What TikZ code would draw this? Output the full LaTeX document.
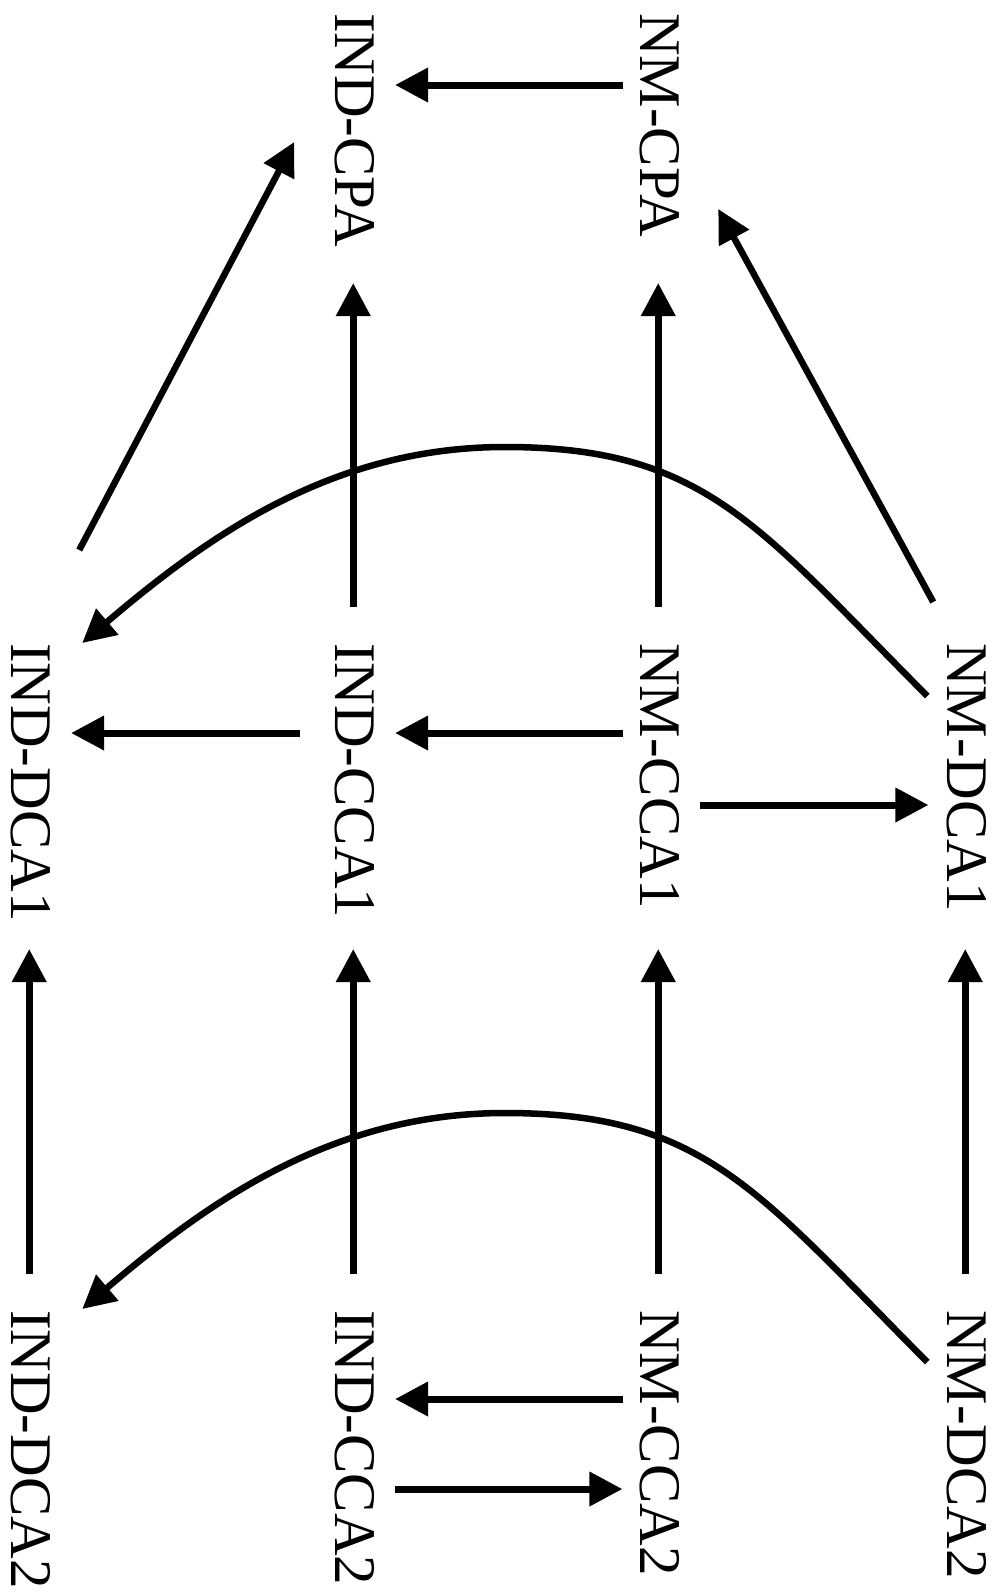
\documentclass[tikz,border=0pt]{standalone}
\usepackage{fontspec}
\setmainfont{Liberation Serif}
\usetikzlibrary{arrows.meta,calc}
\tikzset{
  lbl/.style={rotate=-90, anchor=base west, inner sep=0pt, outer sep=0pt,
              font=\fontsize{59}{59}\selectfont},
  ar/.style={line width=7pt, -{Triangle[length=33pt,width=33pt]}},
  ard/.style={line width=6.5pt, -{Triangle[length=33pt,width=33pt]}},
}
\begin{document}
\begin{tikzpicture}[x=1pt,y=-1pt]
\useasboundingbox (0,0) rectangle (997,1596);
% nodes (baseline x, start y)
\node[lbl] (cpai) at (335,13) {IND-CPA};
\node[lbl] (cpan) at (640,13) {NM-CPA};
\node[lbl] (dca1i) at (11,643) {IND-DCA1};
\node[lbl] (cca1i) at (335,643) {IND-CCA1};
\node[lbl] (cca1n) at (640,643) {NM-CCA1};
\node[lbl] (dca1n) at (947,643) {NM-DCA1};
\node[lbl] (dca2i) at (11,1310) {IND-DCA2};
\node[lbl] (cca2i) at (335,1310) {IND-CCA2};
\node[lbl] (cca2n) at (640,1310) {NM-CCA2};
\node[lbl] (dca2n) at (947,1310) {NM-DCA2};
% top row
\draw[ar] ($(cpan.south west)+(-16,72)$) -- ($(cpai.north west)+(21,72)$);
\draw[ar] ($(cca1i.west)+(-1,-36)$) -- ($(cpai.west)+(-1,270)$);
\draw[ar] ($(cca1n.west)+(-1,-36)$) -- ($(cpan.west)+(-1,270)$);
\draw[ard] ($(dca1i.west)+(49,-93)$) -- ($(cpai.west)+(-60,129)$);
\draw[ard] ($(dca1n.west)+(-33,-41)$) -- ($(cpan.west)+(59,196)$);
\draw[ard] ($(dca1n.west)+(-39,53)$) .. controls (758,526) and (705,447) .. (505,447)
  .. controls (335,447) and (212,532.5) .. ($(dca1i.west)+(52,0)$);
% middle row
\draw[ar] ($(cca1i.south west)+(-34,90)$) -- ($(dca1i.north west)+(21,90)$);
\draw[ar] ($(cca1n.south west)+(-16,90)$) -- ($(cca1i.north west)+(21,90)$);
\draw[ar] ($(cca1n.north west)+(21,162)$) -- ($(dca1n.south west)+(-18,162)$);
% bottom verticals
\draw[ar] ($(dca2i.west)+(-1,-36)$) -- ($(dca1i.west)+(-1,306)$);
\draw[ar] ($(cca2i.west)+(-1,-36)$) -- ($(cca1i.west)+(-1,306)$);
\draw[ar] ($(cca2n.west)+(-1,-36)$) -- ($(cca1n.west)+(-1,306)$);
\draw[ar] ($(dca2n.west)+(-1,-36)$) -- ($(dca1n.west)+(-1,306)$);
% bottom row
\draw[ar] ($(cca2n.south west)+(-16,89)$) -- ($(cca2i.north west)+(21,89)$);
\draw[ar] ($(cca2i.north west)+(21,179)$) -- ($(cca2n.south west)+(-17,179)$);
\draw[ard] ($(dca2n.west)+(-39,52)$) .. controls (758,1192) and (705,1113) .. (505,1113)
  .. controls (335,1113) and (212,1198.5) .. ($(dca2i.west)+(52,-1)$);
\end{tikzpicture}
\end{document}
